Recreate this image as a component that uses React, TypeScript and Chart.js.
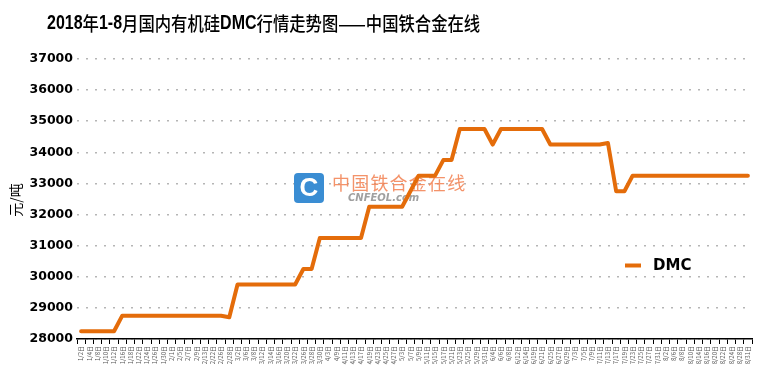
import React, { useEffect, useRef } from "react";
import { Chart, registerables } from "chart.js";
Chart.register(...registerables);

const dateLabels = [
  "1/2日","1/4日","1/8日","1/10日","1/12日","1/16日","1/18日","1/22日","1/24日","1/26日","1/30日",
  "2/1日","2/5日","2/7日","2/9日","2/13日","2/22日","2/26日","2/28日",
  "3/2日","3/6日","3/8日","3/12日","3/14日","3/16日","3/20日","3/22日","3/26日","3/28日","3/30日",
  "4/3日","4/9日","4/11日","4/13日","4/17日","4/19日","4/23日","4/25日","4/27日",
  "5/3日","5/7日","5/9日","5/11日","5/15日","5/17日","5/21日","5/23日","5/25日","5/29日","5/31日",
  "6/4日","6/6日","6/8日","6/12日","6/14日","6/19日","6/21日","6/25日","6/27日","6/29日",
  "7/3日","7/5日","7/9日","7/11日","7/13日","7/17日","7/19日","7/23日","7/25日","7/27日","7/31日",
  "8/2日","8/6日","8/8日","8/10日","8/14日","8/16日","8/20日","8/22日","8/24日","8/28日","8/31日",
];

const dmcValues = [
  28250, 28250, 28250, 28250, 28250,
  28750, 28750, 28750, 28750, 28750, 28750, 28750, 28750, 28750, 28750, 28750, 28750, 28750,
  28700,
  29750, 29750, 29750, 29750, 29750, 29750, 29750, 29750,
  30250, 30250,
  31250, 31250, 31250, 31250, 31250, 31250,
  32250, 32250, 32250, 32250, 32250,
  32750,
  33250, 33250, 33250,
  33750, 33750,
  34750, 34750, 34750, 34750,
  34250,
  34750, 34750, 34750, 34750, 34750, 34750,
  34250, 34250, 34250, 34250, 34250, 34250, 34250,
  34300,
  32750, 32750,
  33250, 33250, 33250, 33250, 33250, 33250, 33250, 33250, 33250, 33250, 33250, 33250, 33250, 33250, 33250,
];

const yMin = 28000;
const yMax = 37000;
const yStep = 1000;

const seriesName = "DMC";
const yAxisTitle = "元/吨";
const titleParts: [string, boolean][] = [
  ["2018", true], ["年", false], ["1-8", true], ["月国内有机硅", false],
  ["DMC", true], ["行情走势图——中国铁合金在线", false],
];
const watermarkCn = "中国铁合金在线";
const watermarkEn = "CNFEOL.com";

const ORANGE = "#E46C0A";

const overlayPlugin = {
  id: "overlay",
  beforeDatasetsDraw(chart: any) {
    const ctx = chart.ctx;
    ctx.save();
    ctx.fillStyle = "#3A8DD3";
    const x0 = 294, y0 = 173, w = 30, h = 30, r = 4;
    ctx.beginPath();
    ctx.moveTo(x0 + r, y0);
    ctx.arcTo(x0 + w, y0, x0 + w, y0 + h, r);
    ctx.arcTo(x0 + w, y0 + h, x0, y0 + h, r);
    ctx.arcTo(x0, y0 + h, x0, y0, r);
    ctx.arcTo(x0, y0, x0 + w, y0, r);
    ctx.closePath();
    ctx.fill();
    ctx.fillStyle = "#ffffff";
    ctx.font = "bold 26px 'Liberation Sans'";
    ctx.textAlign = "center";
    ctx.textBaseline = "middle";
    ctx.fillText("C", x0 + w / 2, y0 + h / 2 + 1);
    ctx.fillStyle = "rgba(242,128,80,0.85)";
    ctx.font = "18px 'Noto Sans CJK SC'";
    ctx.textAlign = "left";
    const chars = Array.from(watermarkCn);
    chars.forEach((c, i) => ctx.fillText(c, 332 + i * 19.2, 183));
    ctx.fillStyle = "rgba(150,150,150,0.9)";
    ctx.font = "italic bold 10px 'DejaVu Sans'";
    ctx.fillText(watermarkEn, 348, 198);
    ctx.restore();
  },
  afterDraw(chart: any) {
    const ctx = chart.ctx;
    // Title
    ctx.save();
    ctx.textBaseline = "alphabetic";
    ctx.textAlign = "left";
    ctx.fillStyle = "#000";
    let cx = 47;
    titleParts.forEach(([t, b]) => {
      const sx = b ? 0.8 : 0.86;
      ctx.font = b ? "bold 20px 'Liberation Sans'" : "500 19px 'Noto Sans CJK SC'";
      ctx.save();
      ctx.translate(cx, b ? 29 : 31);
      ctx.scale(sx, 1);
      ctx.fillText(t, 0, 0);
      ctx.restore();
      cx += ctx.measureText(t).width * sx;
    });
    ctx.restore();

    // Y axis title
    ctx.save();
    ctx.translate(16, 200);
    ctx.rotate(-Math.PI / 2);
    ctx.fillStyle = "#000";
    ctx.font = "14px 'Noto Sans CJK SC'";
    ctx.textAlign = "center";
    ctx.textBaseline = "middle";
    ctx.fillText(yAxisTitle, 0, 0);
    ctx.restore();

    // Legend
    ctx.save();
    ctx.strokeStyle = ORANGE;
    ctx.lineWidth = 4;
    ctx.beginPath();
    ctx.moveTo(625, 265.5);
    ctx.lineTo(641, 265.5);
    ctx.stroke();
    ctx.fillStyle = "#000";
    ctx.font = "bold 15px 'DejaVu Sans'";
    ctx.textBaseline = "middle";
    ctx.textAlign = "left";
    ctx.fillText(seriesName, 653, 266);
    ctx.restore();
  },
};

export default function App() {
  const ref = useRef<HTMLCanvasElement | null>(null);
  useEffect(() => {
    document.body.style.margin = "0";
    const canvas = ref.current!;
    const chart = new Chart(canvas, {
      type: "line",
      data: {
        labels: dateLabels,
        datasets: [
          {
            label: seriesName,
            data: dmcValues,
            borderColor: ORANGE,
            backgroundColor: ORANGE,
            borderWidth: 4,
            pointRadius: 0,
            tension: 0,
            borderJoinStyle: "round",
            borderCapStyle: "round",
          },
        ],
      },
      plugins: [overlayPlugin],
      options: {
        responsive: false,
        animation: false,
        layout: { padding: { top: 59, right: 8, left: 0, bottom: 0 } },
        plugins: {
          legend: { display: false },
          title: { display: false },
          tooltip: { enabled: false },
        },
        scales: {
          x: {
            offset: true,
            afterFit(scale: any) {
              scale.height = 38;
            },
            grid: {
              offset: true,
              drawOnChartArea: false,
              drawTicks: true,
              tickLength: 5,
              color: "#000",
              lineWidth: 1,
            },
            border: { display: true, color: "#000", width: 1.5 },
            ticks: {
              autoSkip: false,
              minRotation: 90,
              maxRotation: 90,
              font: { size: 6, family: "'Noto Sans CJK SC'" },
              color: "#555",
              padding: 2,
            },
          },
          y: {
            min: yMin,
            max: yMax,
            afterFit(scale: any) {
              scale.width = 77;
            },
            ticks: {
              stepSize: yStep,
              callback: (v: any) => String(v),
              font: { size: 12.5, weight: "bold", family: "'DejaVu Sans'" },
              color: "#000",
              padding: 4,
            },
            grid: {
              drawTicks: false,
              color: "#b5b5b5",
              lineWidth: 1.5,
            },
            border: { display: false, dash: [2, 7] },
          },
        },
      },
    });
    return () => chart.destroy();
  }, []);
  return <canvas ref={ref} width={760} height={377} style={{ display: "block" }} />;
}
